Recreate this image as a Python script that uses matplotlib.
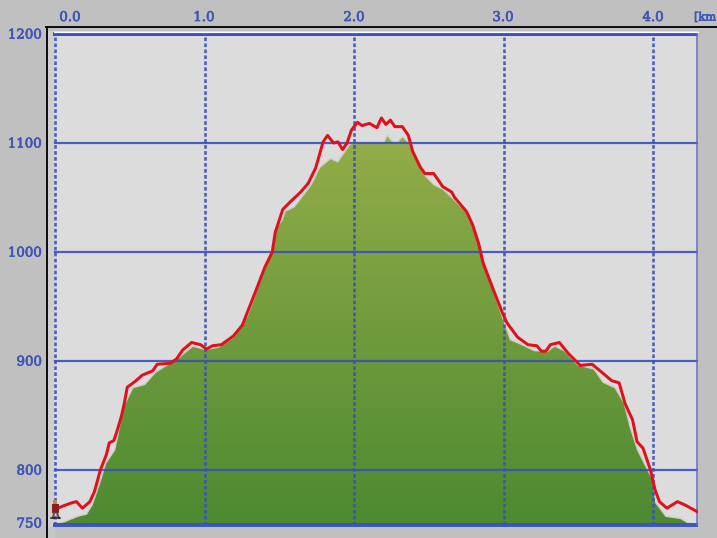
import numpy as np
import matplotlib
matplotlib.use('Agg')
import matplotlib.pyplot as plt
import matplotlib.patheffects as pe
from matplotlib.colors import LinearSegmentedColormap
from matplotlib.lines import Line2D
from matplotlib.patches import Rectangle

# Track recorded by the walker (red line)
track_km = [0.00, 0.05, 0.11, 0.14, 0.18, 0.23, 0.26, 0.30, 0.34, 0.36, 0.39, 0.41, 0.44, 0.46, 0.48, 0.53,
            0.58, 0.65, 0.68, 0.77, 0.81, 0.85, 0.91, 0.97, 1.01, 1.05, 1.11, 1.19, 1.25, 1.29, 1.35, 1.40,
            1.45, 1.47, 1.52, 1.57, 1.64, 1.69, 1.74, 1.79, 1.82, 1.86, 1.89, 1.92, 1.95, 1.98, 2.02, 2.05,
            2.10, 2.15, 2.18, 2.21, 2.24, 2.27, 2.32, 2.36, 2.39, 2.44, 2.47, 2.53, 2.59, 2.65, 2.67, 2.75,
            2.79, 2.83, 2.86, 2.93, 2.99, 3.02, 3.09, 3.16, 3.22, 3.25, 3.28, 3.31, 3.37, 3.43, 3.51, 3.59,
            3.66, 3.72, 3.77, 3.81, 3.86, 3.89, 3.93, 3.98, 4.01, 4.04, 4.09, 4.16, 4.21, 4.29]
track_m = [764, 767, 770, 771, 765, 771, 780, 800, 814, 825, 827, 835, 849, 861, 876, 881,
           887, 891, 897, 898, 902, 910, 917, 915, 911, 914, 915, 923, 933, 947, 968, 986,
           1000, 1018, 1039, 1046, 1055, 1063, 1077, 1101, 1107, 1100, 1101, 1094, 1100, 1112, 1119, 1116,
           1118, 1114, 1123, 1117, 1121, 1115, 1115, 1107, 1092, 1078, 1072, 1072, 1060, 1055, 1050, 1037,
           1025, 1008, 990, 965, 944, 935, 922, 915, 914, 909, 909, 915, 917, 907, 896, 897,
           889, 882, 880, 861, 846, 826, 820, 800, 782, 771, 765, 771, 768, 762]

# Terrain profile (filled area)
ground_km = [0.00, 0.06, 0.15, 0.21, 0.25, 0.30, 0.34, 0.40, 0.46, 0.52, 0.60, 0.67, 0.75, 0.83, 0.92, 1.00,
             1.09, 1.19, 1.23, 1.29, 1.45, 1.47, 1.52, 1.54, 1.60, 1.69, 1.72, 1.77, 1.84, 1.89, 1.97, 2.00,
             2.20, 2.22, 2.25, 2.29, 2.32, 2.36, 2.42, 2.46, 2.53, 2.59, 2.66, 2.74, 2.79, 2.85, 2.93, 2.99,
             3.04, 3.11, 3.20, 3.29, 3.34, 3.40, 3.49, 3.60, 3.66, 3.74, 3.80, 3.84, 3.89, 3.99, 4.01, 4.08,
             4.18, 4.23, 4.29]
ground_m = [750, 752, 757, 759, 768, 788, 806, 818, 858, 875, 878, 889, 896, 903, 913, 910,
            912, 921, 928, 942, 1002, 1020, 1029, 1037, 1041, 1057, 1063, 1077, 1085, 1082, 1098, 1100,
            1100, 1106, 1101, 1100, 1105, 1100, 1082, 1071, 1061, 1057, 1048, 1037, 1022, 999, 962, 938,
            919, 915, 909, 908, 913, 909, 896, 892, 880, 875, 861, 839, 818, 791, 770, 757,
            755, 751, 750]

km_ticks = [0.0, 1.0, 2.0, 3.0, 4.0]
km_labels = ['0.0', '1.0', '2.0', '3.0', '4.0']
m_ticks = [1200, 1100, 1000, 900, 800, 750]
m_labels = ['1200', '1100', '1000', '900', '800', '750']

W, H = 717, 538
BLUE = '#3a50bc'
TEXT = '#3f55b5'
px = 72 / 100  # one pixel in points

fig = plt.figure(figsize=(W / 100, H / 100), dpi=100, facecolor='#c0c0c0')
# axes start left of km 0 so the line at 0 is not clipped
ax = fig.add_axes([47 / W, 1 - 527 / H, 651 / W, 497 / H])
ax.set_facecolor('#dcdcdc')
ax.axvspan(-0.057, -0.01, color='#cfcfcf', lw=0, zorder=0.5)

# light halo along the terrain edge
ax.plot(ground_km, ground_m, c='#cfd1c8', lw=3 * px, zorder=1.5)

# terrain with vertical green gradient
cmap = LinearSegmentedColormap.from_list('hill', ['#4d8a31', '#94ad49'])
grad = np.linspace(0, 1, 256).reshape(-1, 1)
hill = ax.fill(ground_km, ground_m, facecolor='none', edgecolor='none')[0]
im = ax.imshow(grad, origin='lower', aspect='auto', cmap=cmap, extent=[0, 4.291, 750, 1110], zorder=2)
im.set_clip_path(hill)

# grid
for m in m_ticks[1:-1]:
    ax.plot([0, 4.291], [m, m], c=BLUE, lw=2.2 * px, alpha=0.9, zorder=3)
for k in km_ticks:
    ax.plot([k, k], [750, 1200], c=BLUE, lw=2.6 * px, alpha=0.9, ls=(0, (1.4, 0.9)), zorder=3)
ax.plot([0, 4.291], [1200, 1200], c=BLUE, lw=4 * px, zorder=3)
ax.plot([0, 4.291], [750, 750], c=BLUE, lw=4 * px, alpha=0.95, zorder=3)
ax.plot([4.291, 4.291], [750, 1200], c='#5a6cc4', lw=1.5 * px, zorder=3)

ax.plot(track_km, track_m, c='#e0101c', lw=3 * px, zorder=4, solid_joinstyle='round')

# one pixel = 1/149.5 km and 1/1.09 m
ax.set_xlim(-8.5 / 149.5, 4.291 + 1 / 149.5)
ax.set_ylim(750.5 - 3 / 1.09, 1200 + 4 / 1.09)
ax.set_xticks([])
ax.set_yticks([])
for s in ax.spines.values():
    s.set_visible(False)

# outer frame and labels in pixel positions
def fx(x):
    return x / W


def fy(y):
    return 1 - y / H


fig.add_artist(Rectangle((fx(47), 0), fx(8), fy(527), transform=fig.transFigure, fc='#c6c6c6', ec='none', zorder=-1))
fig.add_artist(Line2D([fx(47), fx(698)], [fy(30), fy(30)], c='#c0c0c0', lw=2 * px))
fig.add_artist(Line2D([fx(46.5), fx(46.5)], [0, fy(27)], c='#101010', lw=2 * px))
fig.add_artist(Line2D([fx(46), 1], [fy(27), fy(27)], c='#101010', lw=2 * px))
fig.add_artist(Line2D([fx(54), fx(698)], [fy(31.5), fy(31.5)], c='white', lw=1.2 * px))

stroke = [pe.withStroke(linewidth=0.5, foreground=TEXT)]
font = dict(family='DejaVu Serif', color=TEXT, va='center', path_effects=stroke)
label_x = [70, 204, 354, 503, 653]
for x, lab in zip(label_x, km_labels):
    fig.text(fx(x), fy(17.5), lab, ha='center', fontsize=9.6, **font)
fig.text(fx(694), fy(17.5), '[km', ha='left', fontsize=8.2, **font)
for y, lab in zip([35, 144, 253, 362, 471, 524], m_labels):
    fig.text(fx(42), fy(y), lab, ha='right', fontsize=9.6, **font)

# little walker at the start of the track
fig.add_artist(Rectangle((fx(52), fy(513)), fx(7), fy(504) - fy(513), transform=fig.transFigure, fc='#8c1c20', ec='none', zorder=6))
fig.add_artist(Rectangle((fx(53), fy(504)), fx(4), fy(500) - fy(504), transform=fig.transFigure, fc='#b08a60', ec='none', zorder=6))
fig.add_artist(Line2D([fx(54), fx(53)], [fy(513), fy(518)], c='#5a5040', lw=2 * px, zorder=6))
fig.add_artist(Line2D([fx(57), fx(59)], [fy(513), fy(518)], c='#5a5040', lw=2 * px, zorder=6))
fig.add_artist(Line2D([fx(51), fx(60)], [fy(518), fy(518)], c='#202020', lw=1.5 * px, zorder=6))

fig.savefig('out.png', dpi=100, facecolor=fig.get_facecolor())
